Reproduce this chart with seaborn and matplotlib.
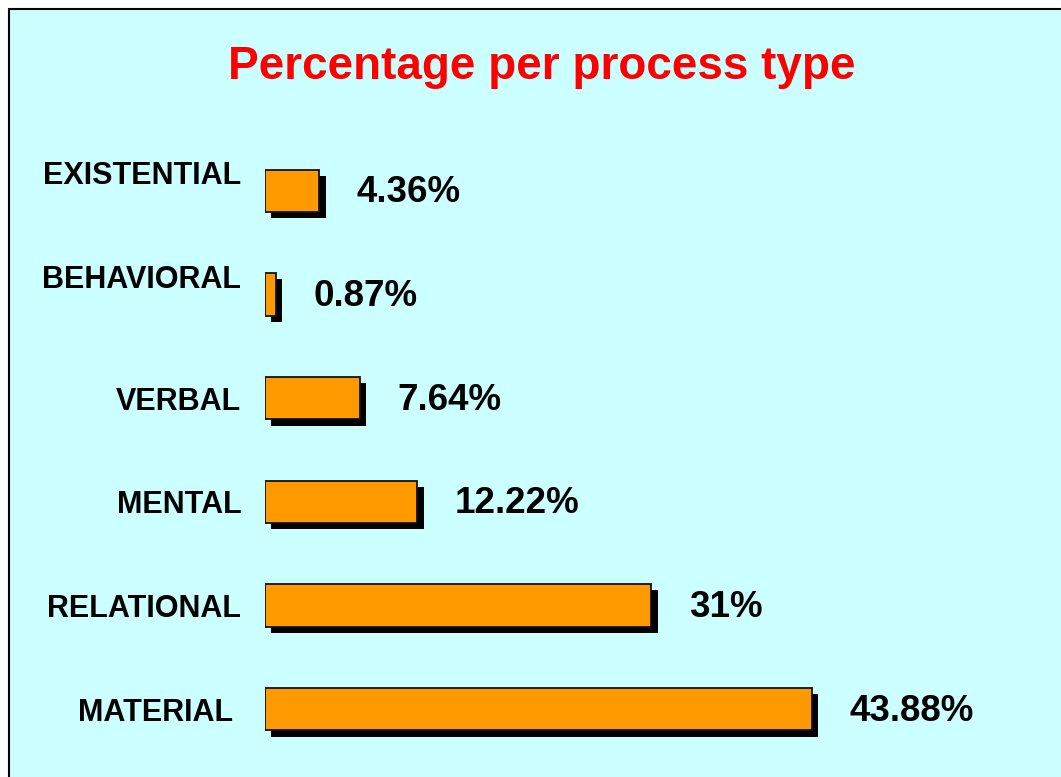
import matplotlib
matplotlib.use("Agg")
import matplotlib.pyplot as plt
import matplotlib.patheffects as pe
from matplotlib.patches import Rectangle
from matplotlib.transforms import ScaledTranslation
import pandas as pd
import seaborn as sns

# data
process_types = ["EXISTENTIAL", "BEHAVIORAL", "VERBAL", "MENTAL", "RELATIONAL", "MATERIAL"]
percentages = [4.36, 0.87, 7.64, 12.22, 31, 43.88]
value_labels = ["4.36%", "0.87%", "7.64%", "12.22%", "31%", "43.88%"]

df = pd.DataFrame({"process": process_types, "pct": percentages})

sns.set_theme(style="white")
plt.rcParams["font.family"] = ["Liberation Sans", "DejaVu Sans"]

W, H = 1061, 777
fig = plt.figure(figsize=(W / 100, H / 100), dpi=100)
fig.patch.set_facecolor("white")

# cyan panel with black border on top / left
fig.patches.append(Rectangle((9 / W, -0.05), 1.1, 1 - 9 / H + 0.05,
                             transform=fig.transFigure, facecolor="#CCFFFF",
                             edgecolor="black", linewidth=1.5, zorder=-1))

ax = fig.add_axes([265 / W, (H - 761) / H, 748 / W, 622 / H])
ax.set_facecolor("none")

sns.barplot(data=df, x="pct", y="process", orient="h", color="#FF9900",
            saturation=1, width=0.41, edgecolor="#111111", linewidth=1.3, ax=ax)

for bar in ax.patches:
    bar.set_path_effects([pe.SimplePatchShadow(offset=(4.5, -4.5), shadow_rgbFace="black", alpha=1),
                          pe.Normal()])

for i, (v, lab) in enumerate(zip(percentages, value_labels)):
    ax.annotate(lab, xy=(v, i), xytext=(27, -1.5), textcoords="offset points",
                ha="left", va="center", fontsize=26.5, fontweight="bold", color="black")

ax.set_xlim(0, 60)
ax.set_ylim(5.5, -0.5)
ax.set_xlabel("")
ax.set_ylabel("")
ax.set_xticks([])
ax.tick_params(axis="y", length=0, pad=17)
for lab in ax.get_yticklabels():
    lab.set_fontsize(22)
    lab.set_fontweight("bold")
    lab.set_color("black")
# the top two labels sit a bit higher in the original, MATERIAL slightly left
labs = ax.get_yticklabels()
for k, (dx, dy) in {0: (0, 13), 1: (0, 13), 5: (-6, 0)}.items():
    labs[k].set_transform(labs[k].get_transform() + ScaledTranslation(dx / 72, dy / 72, fig.dpi_scale_trans))
sns.despine(ax=ax, left=True, bottom=True)

fig.text(542 / W, 1 - 67 / H, "Percentage per process type", ha="center", va="center",
         fontsize=33, fontweight="bold", color="#FF0000")

fig.savefig("out.png", dpi=100, facecolor=fig.get_facecolor())
